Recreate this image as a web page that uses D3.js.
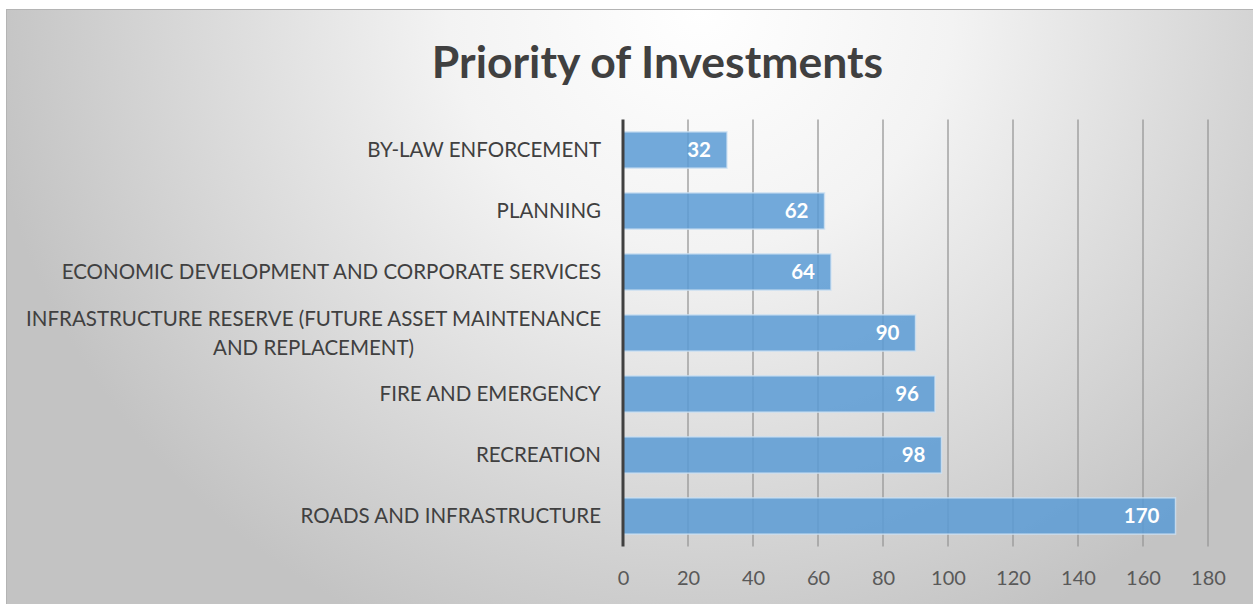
<!DOCTYPE html>
<html>
<head>
<meta charset="utf-8">
<script src="https://cdn.jsdelivr.net/npm/d3@7"></script>
<style>
  html, body { margin: 0; padding: 0; background: #ffffff; }
  svg { display: block; }
  text { font-family: Lato, "Open Sans", "Liberation Sans", sans-serif; }
</style>
</head>
<body>
<svg id="chart" width="1253" height="604"></svg>
<script>
// Investment categories, top to bottom
const categories = [
  "BY-LAW ENFORCEMENT",
  "PLANNING",
  "ECONOMIC DEVELOPMENT AND CORPORATE SERVICES",
  "INFRASTRUCTURE RESERVE (FUTURE ASSET MAINTENANCE|AND REPLACEMENT)",
  "FIRE AND EMERGENCY",
  "RECREATION",
  "ROADS AND INFRASTRUCTURE"
];
// Priority score per category
const values = [32, 62, 64, 90, 96, 98, 170];
// Horizontal axis ticks
const xTicks = [0, 20, 40, 60, 80, 100, 120, 140, 160, 180];
const chartTitle = "Priority of Investments";

const W = 1253, H = 604;
const plot = { left: 623, right: 1208, top: 119.5, bottom: 546.5 };

const svg = d3.select("#chart");

// Background panel with soft radial shading
const defs = svg.append("defs");
const grad = defs.append("radialGradient")
  .attr("id", "bg")
  .attr("gradientUnits", "userSpaceOnUse")
  .attr("cx", 700).attr("cy", 10).attr("r", 720)
  .attr("gradientTransform", "translate(700,10) scale(1,0.95) translate(-700,-10)");
grad.append("stop").attr("offset", 0).attr("stop-color", "#ffffff");
grad.append("stop").attr("offset", 0.35).attr("stop-color", "#f3f3f3");
grad.append("stop").attr("offset", 1).attr("stop-color", "#c3c3c3");

svg.append("rect")
  .attr("x", 6.5).attr("y", 9.5)
  .attr("width", W - 6).attr("height", H - 9)
  .attr("fill", "url(#bg)")
  .attr("stroke", "#b4b4b4").attr("stroke-width", 1);

// Scales
const x = d3.scaleLinear().domain([0, 180]).range([plot.left, plot.right]);
const y = d3.scaleBand().domain(categories).range([plot.top, plot.bottom]).paddingInner(0.405).paddingOuter(0.2025);

// Vertical gridlines
svg.append("g")
  .selectAll("line")
  .data(xTicks.filter(d => d > 0))
  .join("line")
  .attr("x1", d => x(d)).attr("x2", d => x(d))
  .attr("y1", plot.top).attr("y2", plot.bottom)
  .attr("stroke", "#979797").attr("stroke-width", 1.3);

// Bars
svg.append("g")
  .selectAll("rect")
  .data(values)
  .join("rect")
  .attr("x", x(0))
  .attr("y", (d, i) => y(categories[i]))
  .attr("width", d => x(d) - x(0))
  .attr("height", y.bandwidth())
  .attr("fill", "#5b9bd5")
  .attr("fill-opacity", 0.85)
  .attr("stroke", "#cfe2f3")
  .attr("stroke-opacity", 0.8)
  .attr("stroke-width", 1.5);

// Value labels inside bar ends
svg.append("g")
  .selectAll("text")
  .data(values)
  .join("text")
  .attr("x", d => x(d) - 16)
  .attr("y", (d, i) => y(categories[i]) + y.bandwidth() / 2)
  .attr("dy", "0.36em")
  .attr("text-anchor", "end")
  .attr("fill", "#ffffff")
  .attr("font-weight", "bold")
  .attr("font-size", 20.5)
  .text(d => d);

// Category axis line
svg.append("line")
  .attr("x1", x(0)).attr("x2", x(0))
  .attr("y1", plot.top).attr("y2", plot.bottom)
  .attr("stroke", "#404040").attr("stroke-width", 3);

// Category labels (wrapped lines centred within a right-aligned block)
const catG = svg.append("g");
categories.forEach(c => {
  const lines = c.split("|");
  const cy = y(c) + y.bandwidth() / 2;
  const lh = 29;
  const t = catG.append("text")
    .attr("fill", "#404040")
    .attr("font-size", 20.5)
    .attr("text-anchor", "middle");
  lines.forEach((ln, k) => {
    t.append("tspan").attr("x", 0)
      .attr("y", cy + (k - (lines.length - 1) / 2) * lh)
      .attr("dy", "0.35em")
      .text(ln);
  });
  const bw = t.node().getBBox().width;
  t.attr("transform", `translate(${601 - bw / 2},0)`);
});

// Value axis tick labels
const xAxis = d3.axisBottom(x).tickValues(xTicks).tickSize(0).tickPadding(0);
const axG = svg.append("g").attr("transform", `translate(0,${578})`).call(xAxis);
axG.select(".domain").remove();
axG.selectAll("text")
  .attr("y", 0).attr("dy", "0.35em")
  .attr("fill", "#595959")
  .attr("font-size", 20)
  .attr("font-family", "Lato, 'Open Sans', sans-serif");

// Title
svg.append("text")
  .attr("x", 657.5).attr("y", 78)
  .attr("text-anchor", "middle")
  .attr("fill", "#404040")
  .attr("font-weight", "bold")
  .attr("font-size", 44.5)
  .text(chartTitle);
</script>
</body>
</html>
